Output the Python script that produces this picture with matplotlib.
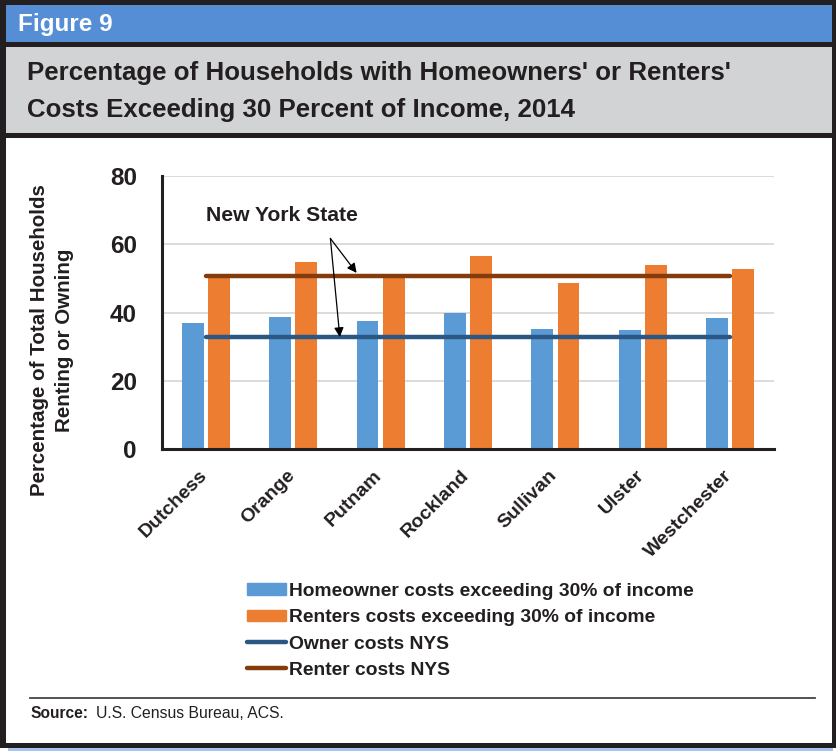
import matplotlib
matplotlib.use("Agg")
import matplotlib.pyplot as plt
import numpy as np
from matplotlib.patches import Rectangle, Patch
from matplotlib.lines import Line2D
from matplotlib.transforms import ScaledTranslation

# data
counties = ["Dutchess", "Orange", "Putnam", "Rockland", "Sullivan", "Ulster", "Westchester"]
homeowner = [36.8, 38.6, 37.6, 39.9, 35.1, 35.0, 38.5]
renters = [50.8, 54.7, 50.9, 56.6, 48.5, 53.9, 52.7]
owner_nys = 32.8
renter_nys = 50.7

W, H = 837, 751
fig = plt.figure(figsize=(W / 100, H / 100), dpi=100)
fig.patch.set_facecolor("white")

SANS = ["Liberation Sans", "DejaVu Sans"]


def box(x0, y0, x1, y1, color, z=-2):
    fig.add_artist(Rectangle((x0 / W, 1 - y1 / H), (x1 - x0) / W, (y1 - y0) / H,
                             transform=fig.transFigure, color=color, zorder=z, lw=0))


# frame: black outline, blue header, grey title band, white body
box(8, 745, 833, 751, "#A9C4EB", z=-3)
box(0, 0, 836, 748, "#231F20", z=-3)
box(6, 5, 832, 42, "#558ED5")
box(6, 47, 832, 133, "#D2D3D5")
box(6, 138, 832, 743, "white")

fig.text(18 / W, 1 - 24 / H, "Figure 9", color="white", fontsize=17.5, fontweight="bold",
         family=SANS, va="center", ha="left")
fig.text(27 / W, 1 - 73 / H, "Percentage of Households with Homeowners' or Renters'",
         color="#231F20", fontsize=18.6, fontweight="bold", family=SANS, va="center", ha="left")
fig.text(27 / W, 1 - 110 / H, "Costs Exceeding 30 Percent of Income, 2014",
         color="#231F20", fontsize=18.6, fontweight="bold", family=SANS, va="center", ha="left")

# chart
ax = fig.add_axes([162 / W, 1 - 449 / H, (774 - 162) / W, (449 - 176) / H])
ax.set_facecolor("none")
x = np.arange(len(counties))
bw = 0.25
ax.bar(x - 0.15, homeowner, bw, color="#5B9BD5", zorder=2)
ax.bar(x + 0.15, renters, bw, color="#ED7D31", zorder=2)
ax.plot([x[0], x[-1]], [owner_nys, owner_nys], color="#2A5783", lw=3.2, zorder=3,
        solid_capstyle="round")
ax.plot([x[0], x[-1]], [renter_nys, renter_nys], color="#843C0C", lw=3.2, zorder=3,
        solid_capstyle="round")

ax.set_xlim(-0.5, len(counties) - 0.5)
ax.set_ylim(0, 80)
ax.set_yticks([0, 20, 40, 60, 80])
ax.yaxis.grid(True, color="#D9D9D9", lw=1.3, zorder=0)
ax.set_axisbelow(True)
for s in ["top", "right"]:
    ax.spines[s].set_visible(False)
for s in ["left", "bottom"]:
    ax.spines[s].set_linewidth(2.2)
    ax.spines[s].set_color("#231F20")
ax.tick_params(axis="y", length=0, pad=18, labelsize=17.5, labelcolor="#231F20")
ax.tick_params(axis="x", length=0, pad=8, labelsize=14, labelcolor="#231F20")
for lab in ax.get_yticklabels():
    lab.set_fontweight("bold")
    lab.set_family(SANS)
ax.set_xticks(x)
ax.set_xticklabels(counties, rotation=45, ha="right", rotation_mode="anchor",
                   fontweight="bold", family=SANS)
shift = ScaledTranslation(-7 / 100, -7 / 100, fig.dpi_scale_trans)
for lab in ax.get_xticklabels():
    lab.set_transform(lab.get_transform() + shift)

fig.text(52 / W, 1 - 340 / H, "Percentage of Total Households\nRenting or Owning",
         rotation=90, ha="center", va="center", multialignment="center", linespacing=1.35,
         fontsize=14.8, fontweight="bold", family=SANS, color="#231F20")

# New York State callout
ax.text(0.0, 68.3, "New York State", fontsize=15.2, fontweight="bold", family=SANS,
        color="#231F20", va="center", ha="left")
start = (1.426, 61.7)
for end in [(1.726, 51.6), (1.534, 32.8)]:
    ax.annotate("", xy=end, xytext=start, annotation_clip=False,
                arrowprops=dict(arrowstyle="-|>", color="black", lw=0.9, mutation_scale=14,
                                shrinkA=0, shrinkB=0))

handles = [Patch(color="#5B9BD5"), Patch(color="#ED7D31"),
           Line2D([], [], color="#2A5783", lw=3.2, solid_capstyle="round"),
           Line2D([], [], color="#843C0C", lw=3.2, solid_capstyle="round")]
labels = ["Homeowner costs exceeding 30% of income", "Renters costs exceeding 30% of income",
          "Owner costs NYS", "Renter costs NYS"]
fig.legend(handles, labels, loc="upper left", bbox_to_anchor=(247 / W, 1 - 583 / H),
           frameon=False, borderpad=0, borderaxespad=0, handlelength=2.0, handleheight=0.55,
           handletextpad=0.2, labelspacing=0.48,
           prop=dict(family=SANS, weight="bold", size=13.9), labelcolor="#231F20")

# source
fig.add_artist(Line2D([30 / W, 815 / W], [1 - 698 / H, 1 - 698 / H], color="#444444", lw=1.3,
                      transform=fig.transFigure))
fig.text(31 / W, 1 - 714 / H, "Source:", fontsize=11.2, fontweight="bold", family=SANS,
         color="#231F20", va="center", ha="left")
fig.text(96 / W, 1 - 714 / H, "U.S. Census Bureau, ACS.", fontsize=11.3, family=SANS,
         color="#231F20", va="center", ha="left")

fig.savefig("out.png", dpi=100)
